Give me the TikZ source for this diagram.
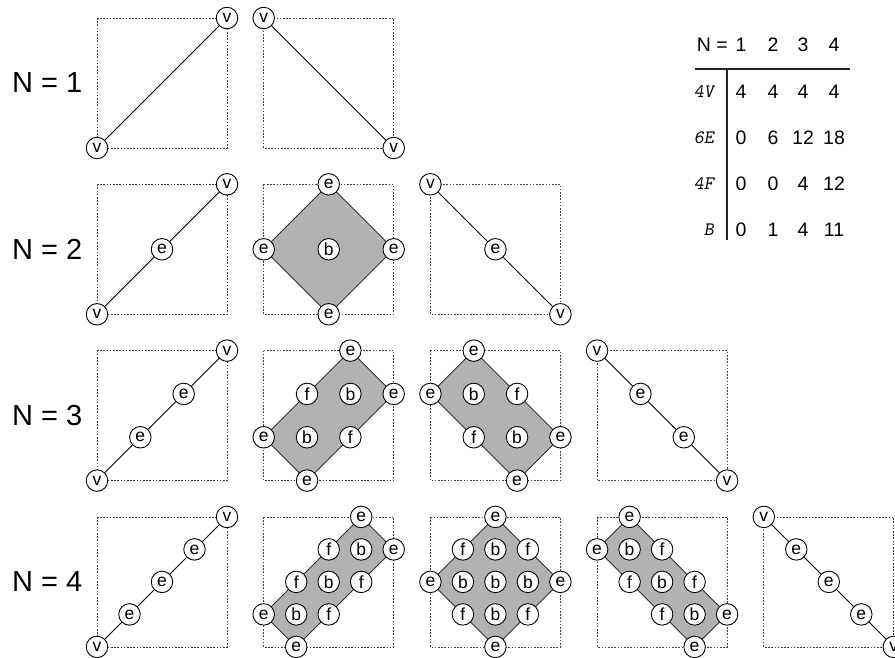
\documentclass[tikz,border=0pt]{standalone}
\usepackage{fontspec}
\setmainfont{Liberation Sans}
\pgfdeclarelayer{bg}
\pgfsetlayers{bg,main}
\tikzset{
  pt/.style={circle,draw=black,fill=white,line width=0.9pt,minimum size=21.5pt,inner sep=0pt,font=\fontsize{17.5}{17.5}\selectfont},
  boxline/.style={draw=black!75,line width=0.8pt,dash pattern=on 1.6pt off 1.6pt},
  poly/.style={fill=black!30,draw=black!80,line width=0.9pt},
  edgeline/.style={draw=black,line width=0.9pt},
  rowlabel/.style={anchor=west,inner sep=0pt,font=\fontsize{29}{29}\selectfont},
  tabtxt/.style={inner sep=0pt,font=\fontsize{19.5}{19.5}\selectfont},
  tabhead/.style={inner sep=0pt,anchor=east,font=\ttfamily\slshape\fontsize{19}{19}\selectfont},
  rule/.style={draw=black!85,line width=1.8pt}
}
\begin{document}
\begin{tikzpicture}[x=1pt,y=-1pt]
\useasboundingbox (0,0) rectangle (895,658);
% row labels
\foreach \N in {1,...,4}{
  \pgfmathsetmacro\yc{18+166.3*(\N-1)+65}
  \node[rowlabel] (lab\N) at (12,\yc) {N = \N};
}
% nodes
\foreach \N in {1,...,4}{
  \foreach \k in {0,...,\N}{
    \pgfmathsetmacro\L{97+166.7*\k}
    \pgfmathsetmacro\T{18+166.3*(\N-1)}
    \pgfmathtruncatemacro\nk{\N-\k}
    \foreach \i in {0,...,\N}{
      \foreach \j in {0,...,\N}{
        \pgfmathtruncatemacro\as{abs(\i+\j-\N)}
        \pgfmathtruncatemacro\ad{abs(\i-\j)}
        \ifnum\as>\nk\relax\else\ifnum\ad>\k\relax\else
          \pgfmathtruncatemacro\onsq{or(or(\i==0,\i==\N),or(\j==0,\j==\N))}
          \pgfmathtruncatemacro\corner{and(or(\i==0,\i==\N),or(\j==0,\j==\N))}
          \pgfmathtruncatemacro\onpoly{or(\as==\nk,\ad==\k)}
          \pgfmathtruncatemacro\lineb{or(\k==0,\k==\N)}
          \def\lab{b}%
          \ifnum\onpoly=1 \def\lab{f}\fi
          \ifnum\lineb=1 \def\lab{e}\fi
          \ifnum\onsq=1 \def\lab{e}\fi
          \ifnum\corner=1 \def\lab{v}\fi
          \pgfmathsetmacro\px{\L+\i*130/\N}
          \pgfmathsetmacro\py{\T+130-\j*130/\N}
          \node[pt] (n\N-\k-\i-\j) at (\px,\py) {\lab};
        \fi\fi
      }
    }
  }
}
% boxes, polygons, lines
\begin{pgfonlayer}{bg}
\foreach \N in {1,...,4}{
  \foreach \k in {0,...,\N}{
    \pgfmathsetmacro\L{97+166.7*\k}
    \pgfmathsetmacro\T{18+166.3*(\N-1)}
    \pgfmathtruncatemacro\nk{\N-\k}
    \path[boxline] (\L,\T) rectangle ++(130,130);
    \ifnum\k=0
      \foreach \i in {1,...,\N}{
        \pgfmathtruncatemacro\ip{\i-1}
        \draw[edgeline] (n\N-\k-\ip-\ip) -- (n\N-\k-\i-\i);
      }
    \else\ifnum\k=\N
      \foreach \i in {1,...,\N}{
        \pgfmathtruncatemacro\ip{\i-1}
        \pgfmathtruncatemacro\jp{\N-\ip}
        \pgfmathtruncatemacro\jj{\N-\i}
        \draw[edgeline] (n\N-\k-\ip-\jp) -- (n\N-\k-\i-\jj);
      }
    \else
      \path[poly] (n\N-\k-0-\k.center) -- (n\N-\k-\k-0.center) -- (n\N-\k-\N-\nk.center) -- (n\N-\k-\nk-\N.center) -- cycle;
    \fi\fi
  }
}
\end{pgfonlayer}
% table
\node[tabtxt,anchor=east] (th) at (728,45) {N =};
\node[tabtxt] (c1) at (741,45) {1};
\node[tabtxt] (c2) at (773,45) {2};
\node[tabtxt] (c3) at (803,45) {3};
\node[tabtxt] (c4) at (834,45) {4};
\coordinate (hl) at (695,69);
\coordinate (hr) at (850,69);
\coordinate (vt) at (727,69);
\coordinate (vb) at (727,240);
\draw[rule] (hl) -- (hr);
\draw[rule] (vt) -- (vb);
\node[tabhead] (r1) at (714,92) {4V};
\node[tabhead] (r2) at (714,138) {6E};
\node[tabhead] (r3) at (714,184) {4F};
\node[tabhead] (r4) at (714,230) {B};
\foreach \a/\b/\c/\d [count=\r] in {4/4/4/4,0/6/12/18,0/0/4/12,0/1/4/11}{
  \pgfmathsetmacro\yy{92+46*(\r-1)}
  \node[tabtxt] (v\r-1) at (741,\yy) {\a};
  \node[tabtxt] (v\r-2) at (773,\yy) {\b};
  \node[tabtxt] (v\r-3) at (803,\yy) {\c};
  \node[tabtxt] (v\r-4) at (834,\yy) {\d};
}
\end{tikzpicture}
\end{document}
